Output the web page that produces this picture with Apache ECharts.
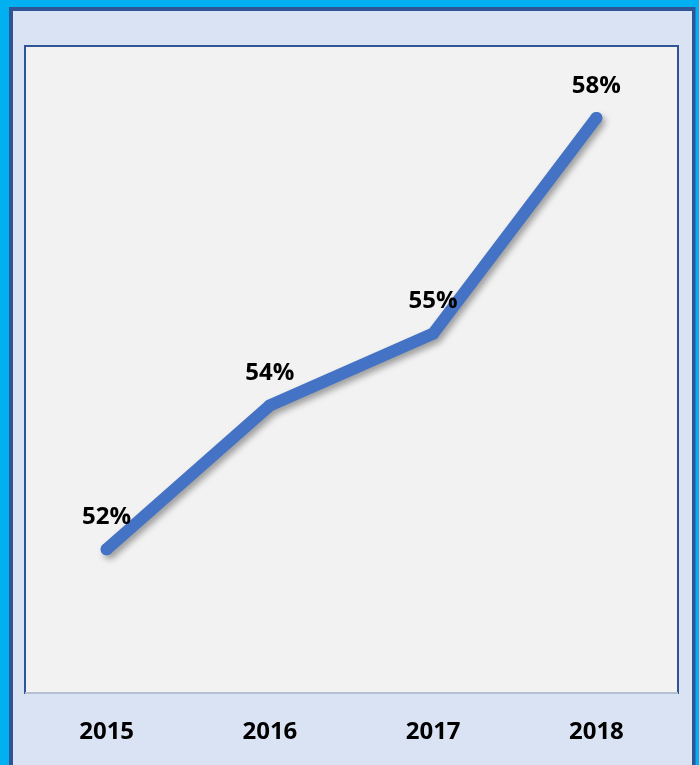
<!DOCTYPE html>
<html>
<head>
<meta charset="utf-8">
<script src="https://cdn.jsdelivr.net/npm/echarts@6/dist/echarts.min.js"></script>
<style>
html,body{margin:0;padding:0;background:#dae3f3;}
#c{width:699px;height:765px;}
</style>
</head>
<body>
<div id="c"></div>
<script>
var categories = ['2015', '2016', '2017', '2018'];
var values = [52, 54, 55, 58];

var chart = echarts.init(document.getElementById('c'));
var FONT = 'Open Sans';
chart.setOption({
  backgroundColor: '#00b0f0',
  animation: false,
  graphic: [
    { type: 'rect', z: -10, silent: true, shape: { x: 9, y: 7, width: 686.5, height: 800 }, style: { fill: '#2f5597' } },
    { type: 'rect', z: -9, silent: true, shape: { x: 13, y: 11, width: 679, height: 800 }, style: { fill: '#dae3f3' } },
    { type: 'line', z: 5, silent: true, shape: { x1: 25, y1: 693, x2: 678, y2: 693 }, style: { stroke: '#b4bfd3', lineWidth: 2 } }
  ],
  grid: {
    left: 25, right: 21, top: 46, bottom: 72,
    show: true,
    backgroundColor: '#f2f2f2',
    borderColor: '#2f5597',
    borderWidth: 2
  },
  xAxis: {
    type: 'category',
    data: categories,
    boundaryGap: true,
    axisLine: { show: false },
    axisTick: { show: false },
    axisLabel: {
      margin: 27,
      color: '#000',
      fontFamily: FONT,
      fontWeight: 'bold',
      fontSize: 24
    }
  },
  yAxis: {
    type: 'value',
    min: 50, max: 59,
    show: false,
    splitLine: { show: false }
  },
  series: [{
    type: 'line',
    data: values,
    symbol: 'circle',
    symbolSize: 12,
    itemStyle: { color: '#4472c4' },
    lineStyle: {
      color: '#4472c4',
      width: 12,
      cap: 'round',
      join: 'miter',
      shadowColor: 'rgba(0,0,0,0.35)',
      shadowBlur: 6,
      shadowOffsetX: 3,
      shadowOffsetY: 4
    },
    label: {
      show: true,
      position: 'top',
      distance: 14,
      formatter: '{c}%',
      color: '#000',
      fontFamily: FONT,
      fontWeight: 'bold',
      fontSize: 24
    }
  }]
});
</script>
</body>
</html>
